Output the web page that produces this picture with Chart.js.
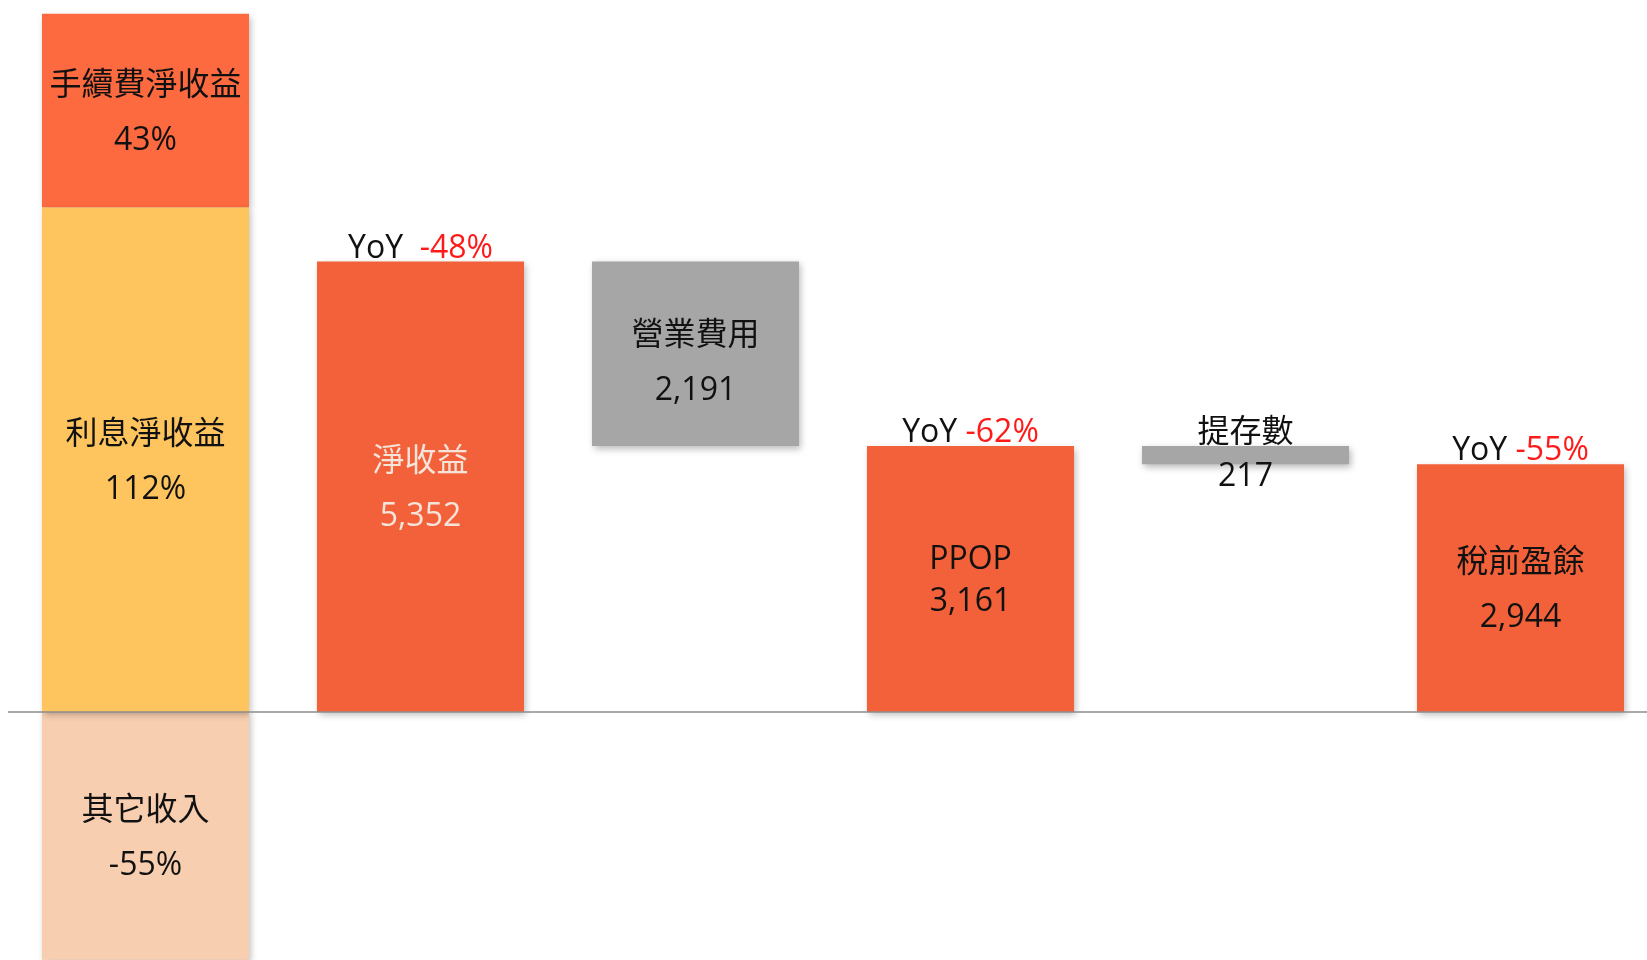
<!DOCTYPE html>
<html>
<head>
<meta charset="utf-8">
<script src="https://cdn.jsdelivr.net/npm/chart.js@4/dist/chart.umd.min.js"></script>
<style>
  html, body { margin: 0; padding: 0; background: #fff; overflow: hidden; }
  #wrap { width: 1658px; height: 960px; }
</style>
</head>
<body>
<div id="wrap"><canvas id="myChart" width="1658" height="960"></canvas></div>
<script>
// categories of the waterfall
const categories = ['收益組成', '淨收益', '營業費用', 'PPOP', '提存數', '稅前盈餘'];

// waterfall amounts
const netIncome = 5352;
const opex = 2191;
const ppop = 3161;
const provision = 217;
const preTax = 2944;

// first column: breakdown of net income (amounts)
const interestAmt = 5994;
const feeAmt = 2301;
const otherAmt = -2944;
const breakdownNames = ['利息淨收益', '手續費淨收益', '其它收入'];
const breakdownPct = ['112%', '43%', '-55%'];

// YoY labels above bars
const yoyLabels = [null, '-48%', null, '-62%', null, '-55%'];
const barNames = [null, '淨收益', '營業費用', 'PPOP', '提存數', '稅前盈餘'];

const FONT = '"Open Sans", "Noto Sans CJK TC", sans-serif';

const waterfall = [
  null,
  [0, netIncome],
  [netIncome - opex, netIncome],
  [0, ppop],
  [ppop - provision, ppop],
  [0, preTax]
];

const shadowPlugin = {
  id: 'shadow',
  beforeDatasetsDraw(chart) {
    const c = chart.ctx;
    c.save();
    c.shadowColor = 'rgba(0,0,0,0.28)';
    c.shadowBlur = 7;
    c.shadowOffsetX = 2;
    c.shadowOffsetY = 3;
  },
  afterDatasetsDraw(chart) {
    chart.ctx.restore();
  }
};

const zeroLine = {
  id: 'zeroLine',
  afterDatasetsDraw(chart) {
    const c = chart.ctx;
    const y = chart.scales.y.getPixelForValue(0);
    c.save();
    c.strokeStyle = '#8c8c8c';
    c.lineWidth = 1.5;
    c.beginPath();
    c.moveTo(chart.chartArea.left, y);
    c.lineTo(chart.chartArea.right, y);
    c.stroke();
    c.restore();
  }
};

function centerY(bar) {
  return (bar.y + bar.base) / 2 + 2;
}

const labels = {
  id: 'labels',
  afterDraw(chart) {
    const c = chart.ctx;
    c.save();
    c.textAlign = 'center';
    c.textBaseline = 'middle';
    c.font = '32px ' + FONT;
    c.fillStyle = '#111';

    // breakdown column, datasets 0..2
    for (let d = 0; d < 3; d++) {
      const bar = chart.getDatasetMeta(d).data[0];
      const cy = centerY(bar);
      c.fillText(breakdownNames[d], bar.x, cy - 27);
      c.fillText(breakdownPct[d], bar.x, cy + 28);
    }

    const meta = chart.getDatasetMeta(3);
    for (let i = 1; i < categories.length; i++) {
      const bar = meta.data[i];
      const cy = centerY(bar);
      const top = Math.min(bar.y, bar.base);
      const bottom = Math.max(bar.y, bar.base);
      const val = Math.abs(waterfall[i][1] - waterfall[i][0]).toLocaleString('en-US');
      c.fillStyle = i === 1 ? '#f4e4da' : '#111';
      if (i === 4) {
        c.fillText(barNames[i], bar.x, top - 13);
        c.fillText(val, bar.x, bottom + 13);
      } else if (i === 3) {
        c.fillText(barNames[i], bar.x, cy - 21);
        c.fillText(val, bar.x, cy + 21);
      } else {
        c.fillText(barNames[i], bar.x, cy - 27 + (i === 2 ? 7 : 0));
        c.fillText(val, bar.x, cy + 28 + (i === 2 ? 7 : 0));
      }
      if (yoyLabels[i]) {
        const gap = i === 1 ? '  ' : ' ';
        const w1 = c.measureText('YoY' + gap).width;
        const w2 = c.measureText(yoyLabels[i]).width;
        const x0 = bar.x - (w1 + w2) / 2;
        c.textAlign = 'left';
        c.fillStyle = '#111';
        c.fillText('YoY' + gap, x0, top - 13);
        c.fillStyle = '#ff1a1a';
        c.fillText(yoyLabels[i], x0 + w1, top - 13);
        c.textAlign = 'center';
      }
    }
    c.restore();
  }
};

function makeChart() {
  const ctx = document.getElementById('myChart');
  return new Chart(ctx, {
    type: 'bar',
    data: {
      labels: categories,
      datasets: [
        { label: breakdownNames[0], data: [[0, interestAmt], null, null, null, null, null], backgroundColor: '#fec55e' },
        { label: breakdownNames[1], data: [[interestAmt, interestAmt + feeAmt], null, null, null, null, null], backgroundColor: '#fe6a3f' },
        { label: breakdownNames[2], data: [[otherAmt, 0], null, null, null, null, null], backgroundColor: '#f7cfb0' },
        {
          label: 'waterfall',
          data: waterfall,
          backgroundColor: [null, '#f26139', '#a6a6a6', '#f26139', '#a6a6a6', '#f26139']
        }
      ]
    },
    options: {
      responsive: false,
      animation: false,
      layout: { padding: { left: 8, right: 0, top: 0, bottom: 0 } },
      datasets: {
        bar: { grouped: false, categoryPercentage: 1, barPercentage: 0.753, borderWidth: 0 }
      },
      plugins: { legend: { display: false }, tooltip: { enabled: false } },
      scales: {
        x: { display: false },
        y: { display: false, min: -2946, max: 8458 }
      }
    },
    plugins: [shadowPlugin, zeroLine, labels]
  });
}

document.addEventListener('DOMContentLoaded', () => makeChart());
</script>
</body>
</html>
